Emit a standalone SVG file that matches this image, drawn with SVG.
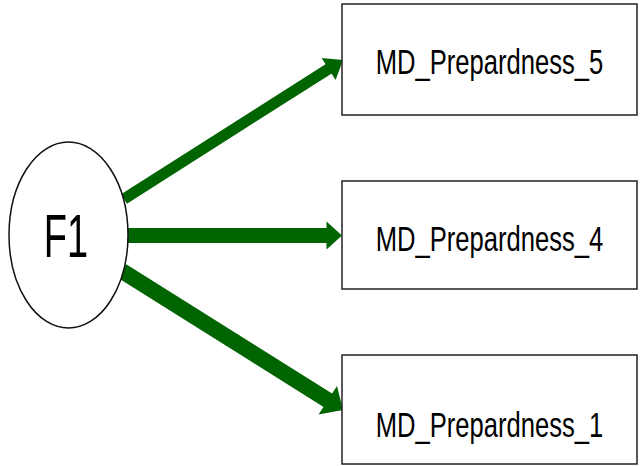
<svg xmlns="http://www.w3.org/2000/svg" width="642" height="466" viewBox="0 0 642 466">
<style>
.box{fill:#fff;stroke:#222;stroke-width:1.5}
.lat{fill:#fff;stroke:#111;stroke-width:1.5}
.lbl{font-family:"Liberation Sans",Arial,sans-serif;font-size:25.6px;fill:#000;text-anchor:middle}
.f1{font-family:"Liberation Sans",Arial,sans-serif;font-size:38px;fill:#000;text-anchor:middle}
.shaft{stroke:#006400;fill:none}
.head{fill:#006400}
</style>
<rect width="642" height="466" fill="#fff"/>
<g id="connectors">
<line class="shaft" x1="124" y1="199" x2="330" y2="68" stroke-width="11"/>
<polygon class="head" points="343,60 335.6,80.1 321.6,58.1"/>
<line class="shaft" x1="127" y1="235.5" x2="328" y2="235.5" stroke-width="15"/>
<polygon class="head" points="342,235.5 326.5,221.5 326.5,249.5"/>
<line class="shaft" x1="122" y1="271" x2="329" y2="401" stroke-width="16"/>
<polygon class="head" points="343,410 318.5,414.5 337,386"/>
</g>
<g id="F1">
<ellipse class="lat" cx="68.5" cy="235" rx="59.5" ry="93"/>
<text class="f1" transform="translate(66,257) scale(1,1.62)">F1</text>
</g>
<g id="MD_Prepardness_5">
<rect class="box" x="342" y="4" width="295" height="111"/>
<text class="lbl" transform="translate(489.5,74) scale(1,1.4)">MD_Prepardness_5</text>
</g>
<g id="MD_Prepardness_4">
<rect class="box" x="342" y="181" width="295" height="108"/>
<text class="lbl" transform="translate(489.5,250.5) scale(1,1.4)">MD_Prepardness_4</text>
</g>
<g id="MD_Prepardness_1">
<rect class="box" x="342" y="355" width="295" height="109"/>
<text class="lbl" transform="translate(489.5,436.5) scale(1,1.4)">MD_Prepardness_1</text>
</g>
</svg>
